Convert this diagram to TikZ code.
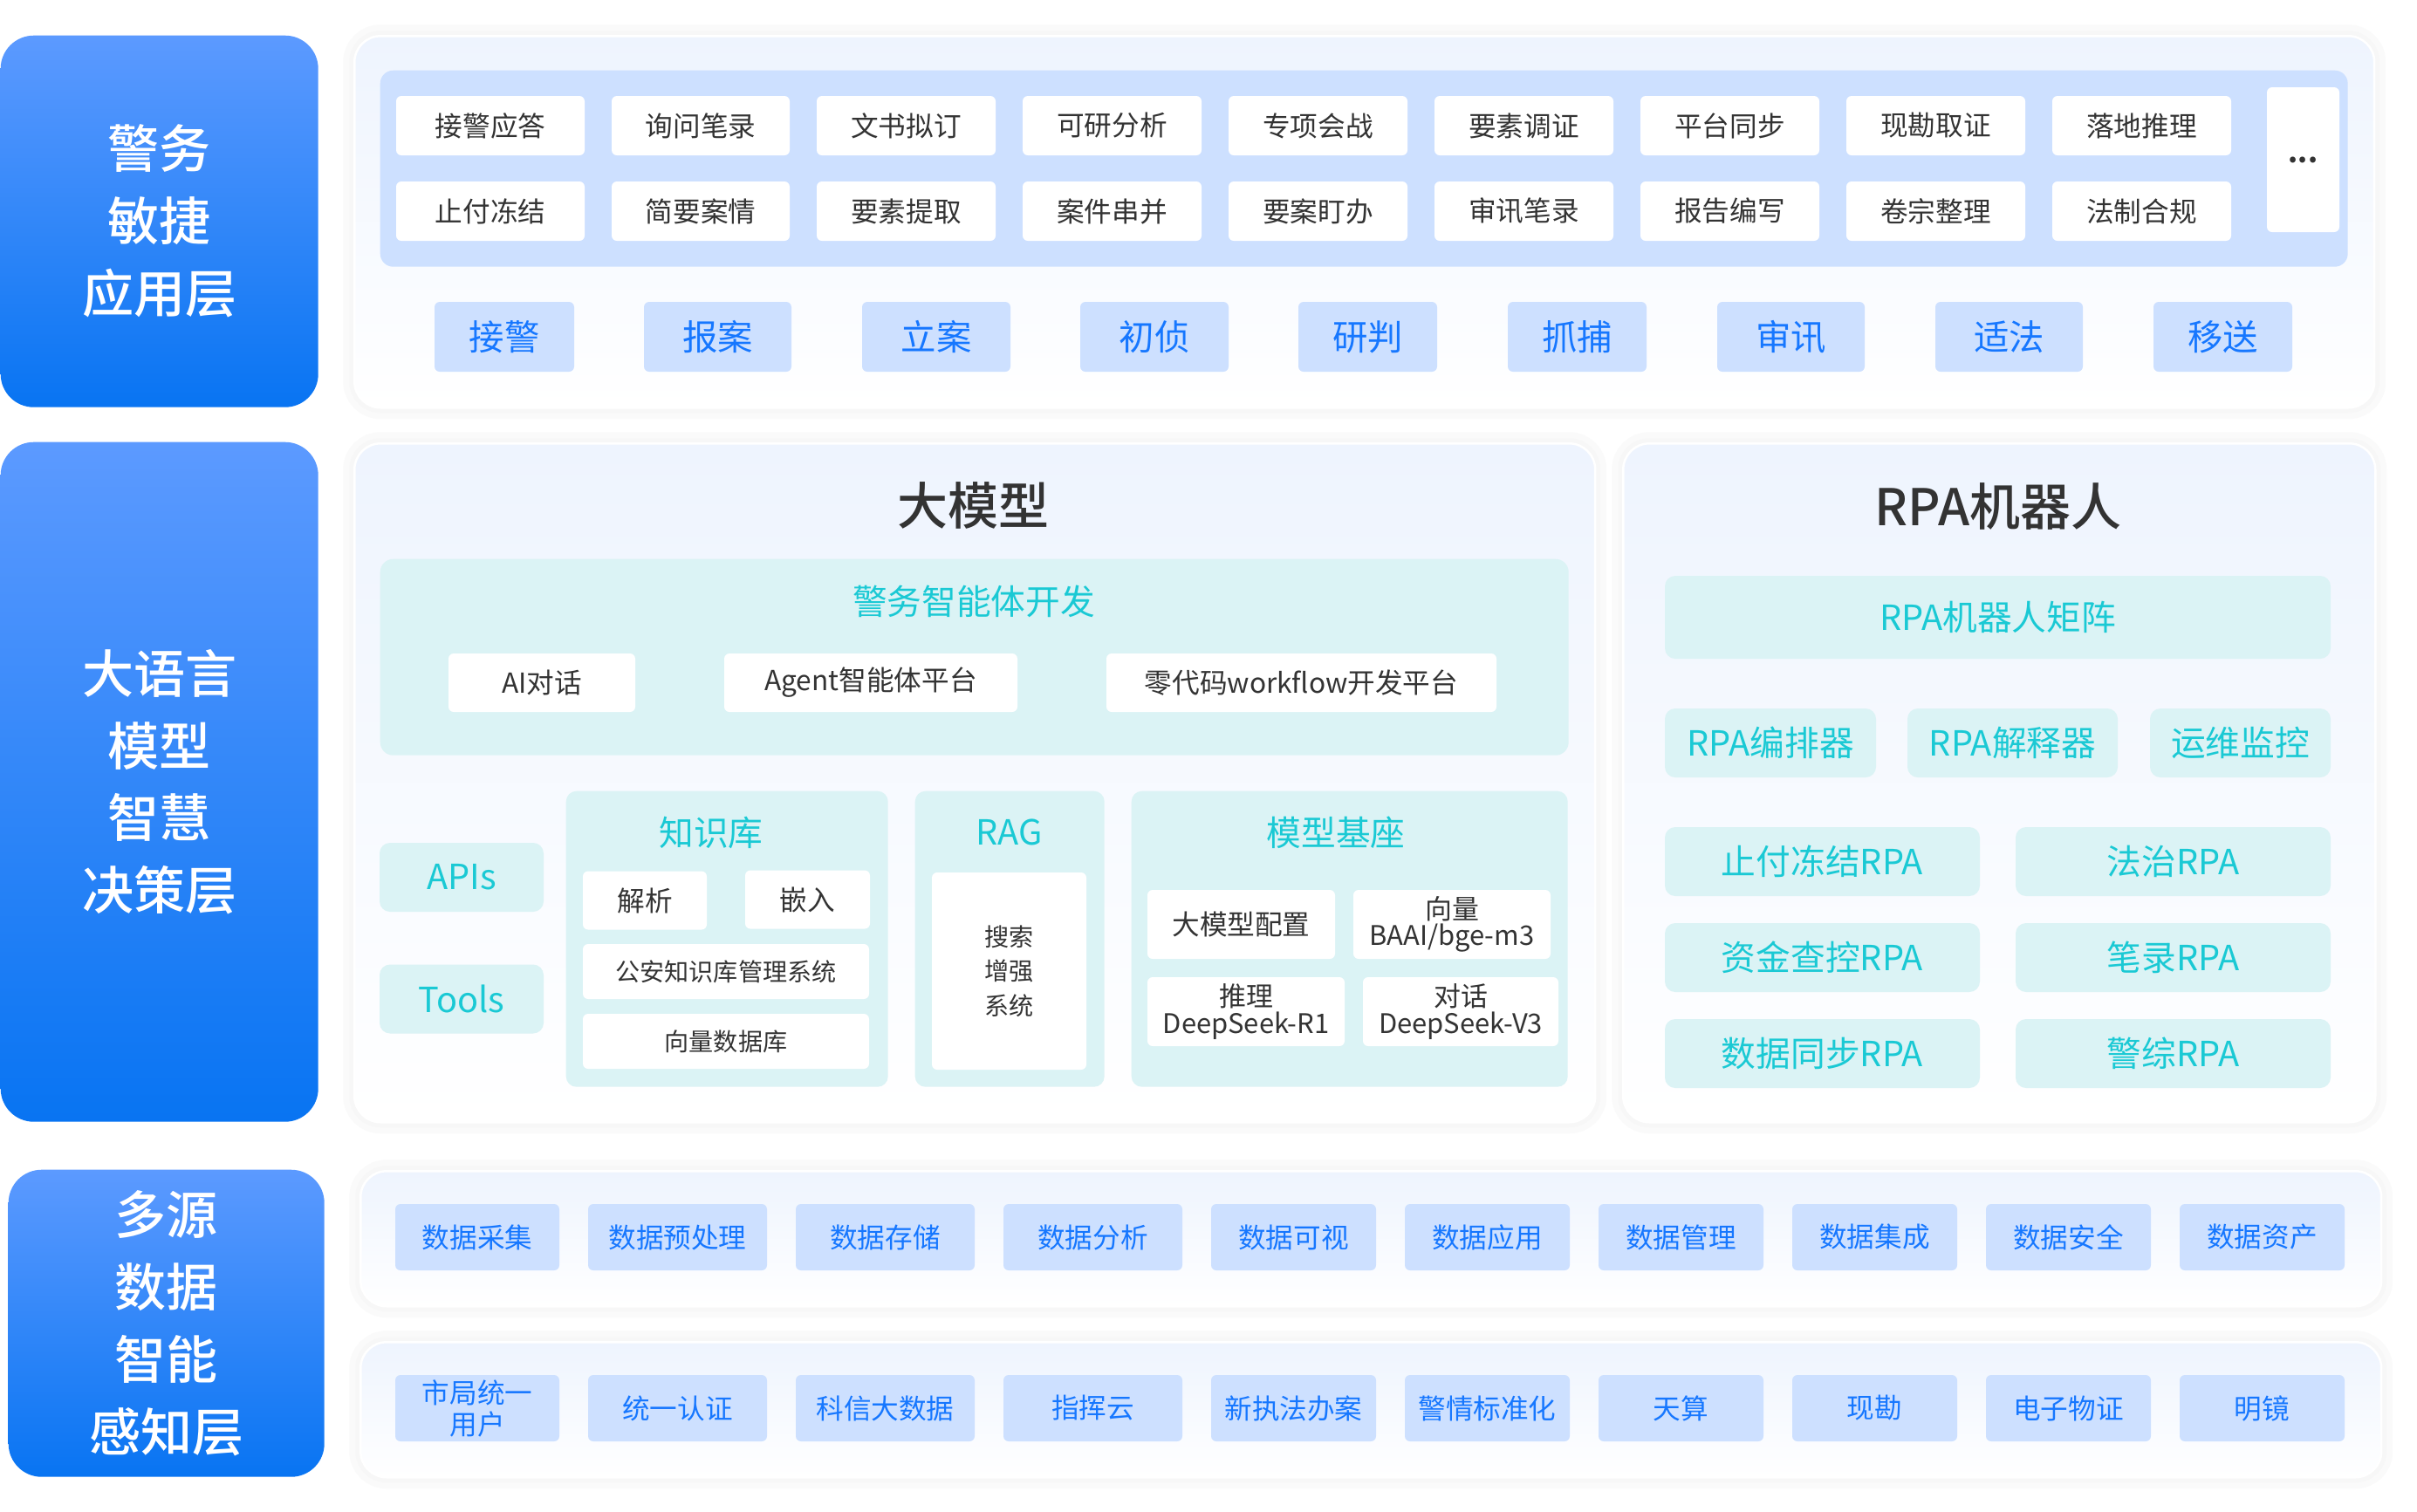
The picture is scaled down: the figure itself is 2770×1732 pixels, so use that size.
\documentclass[tikz,border=0pt]{standalone}
\usepackage{fontspec}
\setmainfont{Noto Sans CJK SC}
\IfFontExistsTF{Noto Sans CJK SC Medium}
  {\newfontfamily\mdfont{Noto Sans CJK SC Medium}}
  {\newfontfamily\mdfont{Noto Sans CJK SC}[FakeBold=1.2]}
\usetikzlibrary{positioning}
\definecolor{lyrtop}{RGB}{92,154,255}
\definecolor{lyrbot}{RGB}{8,116,242}
\definecolor{pnltop}{RGB}{238,244,254}
\definecolor{hlblue}{RGB}{22,119,255}
\definecolor{hlbluebg}{RGB}{205,224,255}
\definecolor{hlteal}{RGB}{26,201,212}
\definecolor{hltealbg}{RGB}{219,243,245}
\definecolor{txtdark}{RGB}{51,51,51}
\newcommand{\fsz}[2]{\fontsize{#1}{#2}\selectfont}
\tikzset{
  lyr/.style={rounded corners=3.8mm, top color=lyrtop, bottom color=lyrbot, text=white,
              align=center, inner sep=0pt, anchor=north west, font=\mdfont\fsz{16.8}{23.6}},
  pnl/.style={rounded corners=3mm, top color=pnltop, bottom color=white, draw=white,
              line width=0.25mm, anchor=north west, inner sep=0pt,
              preaction={draw=black!2, line width=2.6mm},
              preaction={draw=black!3, line width=1.2mm}},
  tagbox/.style={fill=white, rounded corners=0.6mm, inner sep=0pt, text=txtdark,
                 minimum height=6.8mm, font=\fsz{9}{10}},
  stg/.style={fill=hlbluebg, rounded corners=0.6mm, inner sep=0pt, text=hlblue,
              minimum height=8mm, font=\fsz{11.5}{13}},
  dbox/.style={fill=hlbluebg, rounded corners=0.6mm, inner sep=0pt, text=hlblue,
               minimum height=7.6mm, align=center, font=\fsz{9}{10.2}},
  tbox/.style={fill=hltealbg, rounded corners=1.2mm, inner sep=0pt, text=hlteal,
               font=\fsz{11.3}{13}},
  wbox/.style={fill=white, rounded corners=0.6mm, inner sep=0pt, text=txtdark,
               align=center, font=\fsz{9}{10}},
  ttl/.style={text=txtdark, font=\mdfont\fsz{16.5}{18}},
  subttl/.style={text=hlteal, font=\fsz{11.3}{13}},
}
\begin{document}
\begin{tikzpicture}[x=0.1mm, y=-0.1mm]
  \fill[white] (0,0) rectangle (2770,1732);
  \useasboundingbox (0,0) rectangle (2770,1732);
  % application layer
  \node[lyr, minimum width=36.4mm, minimum height=42.6mm] (lyrapp) at (0,40) {警务\\敏捷\\应用层};
  \node[pnl, minimum width=231.5mm, minimum height=42.6mm] (pnlapp) at (405,40) {};
  \node[fill=hlbluebg, rounded corners=1.5mm, anchor=north west, minimum width=225.5mm,
        minimum height=22.5mm] (scn) at (435,80) {};
  \foreach \x/\w/\ta/\tb [count=\i] in {562/21.6/接警应答/止付冻结, 803/20.4/询问笔录/简要案情,
      1038.5/20.5/文书拟订/要素提取, 1274.5/20.5/可研分析/案件串并, 1510.5/20.5/专项会战/要案盯办,
      1746.5/20.5/要素调证/审讯笔录, 1982.5/20.5/平台同步/报告编写, 2218.5/20.5/现勘取证/卷宗整理,
      2454.5/20.5/落地推理/法制合规}{
    \node[tagbox, minimum width=\w mm] (ra\i) at (\x,144) {\ta};
    \node[tagbox, minimum width=\w mm] (rb\i) at (\x,242) {\tb};
  }
  \node[tagbox, minimum width=8.3mm, minimum height=16.6mm, font=\fsz{9}{10}\bfseries] (more) at (2639.5,183) {...};
  \foreach \x/\w/\t [count=\i] in {578/16/接警, 822.5/16.9/报案, 1073/17/立案, 1323/17/初侦,
      1567.5/15.9/研判, 1807.5/15.9/抓捕, 2052.5/16.9/审讯, 2302.5/16.9/适法, 2547.5/15.9/移送}
    \node[stg, minimum width=\w mm] (stg\i) at (\x,386) {\t};

  % decision layer
  \node[lyr, minimum width=36.4mm, minimum height=77.9mm] (lyrllm) at (0,506) {大语言\\模型\\智慧\\决策层};
  \node[pnl, minimum width=142.2mm, minimum height=77.8mm] (pnlllm) at (405,507) {};
  \node[pnl, minimum width=86.2mm, minimum height=77.8mm] (pnlrpa) at (1859,507) {};
  \node[ttl] (tllm) at (1115,579) {大模型};
  \node[ttl] (trpa) at (2290,580) {RPA机器人};
  \node[tbox, anchor=north west, rounded corners=1.5mm, minimum width=136.2mm, minimum height=22.5mm] (agt) at (435,640) {};
  \node[subttl] (tagt) at (1116,689) {警务智能体开发};
  \node[wbox, minimum width=21.4mm, minimum height=6.7mm] (aichat) at (621,782.5) {AI对话};
  \node[wbox, minimum width=33.6mm, minimum height=6.7mm] (agent) at (998,782.5) {Agent智能体平台};
  \node[wbox, minimum width=44.7mm, minimum height=6.7mm] (wflow) at (1491.5,782.5) {零代码workflow开发平台};
  \node[tbox, minimum width=18.8mm, minimum height=7.9mm] (apis) at (529,1005.5) {APIs};
  \node[tbox, minimum width=18.8mm, minimum height=7.9mm] (tools) at (529,1145) {Tools};
  % knowledge base, RAG, model base
  \node[tbox, anchor=north west, minimum width=36.9mm, minimum height=33.9mm] (kb) at (648,906) {};
  \node[subttl] (tkb) at (815,954) {知识库};
  \node[wbox, minimum width=14.2mm, minimum height=6.7mm] (parse) at (739,1032) {解析};
  \node[wbox, minimum width=14.3mm, minimum height=6.7mm] (embed) at (925.5,1031) {嵌入};
  \node[wbox, minimum width=32.8mm, minimum height=6.3mm, font=\fsz{8}{9}] (kbsys) at (832,1113.5) {公安知识库管理系统};
  \node[wbox, minimum width=32.8mm, minimum height=6.3mm, font=\fsz{8}{9}] (vecdb) at (832,1193.5) {向量数据库};
  \node[tbox, anchor=north west, minimum width=21.7mm, minimum height=33.9mm] (rag) at (1048,906) {};
  \node[subttl] (trag) at (1156.5,954) {RAG};
  \node[wbox, minimum width=17.7mm, minimum height=22.6mm, font=\fsz{8}{11.3}] (ragsys) at (1156.5,1113) {搜索\\增强\\系统};
  \node[tbox, anchor=north west, minimum width=50mm, minimum height=33.9mm] (base) at (1296,906) {};
  \node[subttl] (tbase) at (1531,954) {模型基座};
  \node[wbox, minimum width=21.5mm, minimum height=7.9mm] (cfg) at (1422.5,1059.5) {大模型配置};
  \node[wbox, minimum width=22.6mm, minimum height=7.9mm, font=\fsz{8.8}{8.6}] (vec) at (1664,1059.5) {向量\\BAAI/bge-m3};
  \node[wbox, minimum width=22.6mm, minimum height=7.9mm, font=\fsz{8.8}{8.6}] (infer) at (1428,1159.5) {推理\\DeepSeek-R1};
  \node[wbox, minimum width=22.4mm, minimum height=7.9mm, font=\fsz{8.8}{8.6}] (chat) at (1674,1159.5) {对话\\DeepSeek-V3};
  % RPA robots
  \node[tbox, minimum width=76.3mm, minimum height=9.5mm] (rpamx) at (2289.5,707.5) {RPA机器人矩阵};
  \node[tbox, minimum width=24.2mm, minimum height=7.9mm] (rpaorc) at (2029,851.5) {RPA编排器};
  \node[tbox, minimum width=24.1mm, minimum height=7.9mm] (rpaint) at (2306.5,851.5) {RPA解释器};
  \node[tbox, minimum width=20.7mm, minimum height=7.9mm] (rpaops) at (2567.5,851.5) {运维监控};
  \foreach \y/\ta/\tb [count=\i] in {987.5/止付冻结RPA/法治RPA, 1097.5/资金查控RPA/笔录RPA,
      1207.5/数据同步RPA/警综RPA}{
    \node[tbox, minimum width=36.1mm, minimum height=7.9mm] (rpal\i) at (2088.5,\y) {\ta};
    \node[tbox, minimum width=36.1mm, minimum height=7.9mm] (rpar\i) at (2490.5,\y) {\tb};
  }

  % perception layer
  \node[lyr, minimum width=36.2mm, minimum height=35.2mm] (lyrdat) at (9,1340) {多源\\数据\\智能\\感知层};
  \node[pnl, minimum width=231.6mm, minimum height=15.5mm] (pnlda) at (412,1341) {};
  \node[pnl, minimum width=231.6mm, minimum height=15.5mm] (pnldb) at (412,1537) {};
  \foreach \x/\w/\ta/\tb [count=\i] in {547/18.8/数据采集/市局统一\\用户, 776.5/20.5/数据预处理/统一认证,
      1014.5/20.5/数据存储/科信大数据, 1252.5/20.5/数据分析/指挥云, 1482.5/18.9/数据可视/新执法办案,
      1704.5/18.9/数据应用/警情标准化, 1926.5/18.9/数据管理/天算, 2148.5/18.9/数据集成/现勘,
      2370.5/18.9/数据安全/电子物证, 2592.5/18.9/数据资产/明镜}{
    \node[dbox, minimum width=\w mm] (da\i) at (\x,1418) {\ta};
    \node[dbox, minimum width=\w mm] (db\i) at (\x,1614) {\tb};
  }
\end{tikzpicture}
\end{document}
